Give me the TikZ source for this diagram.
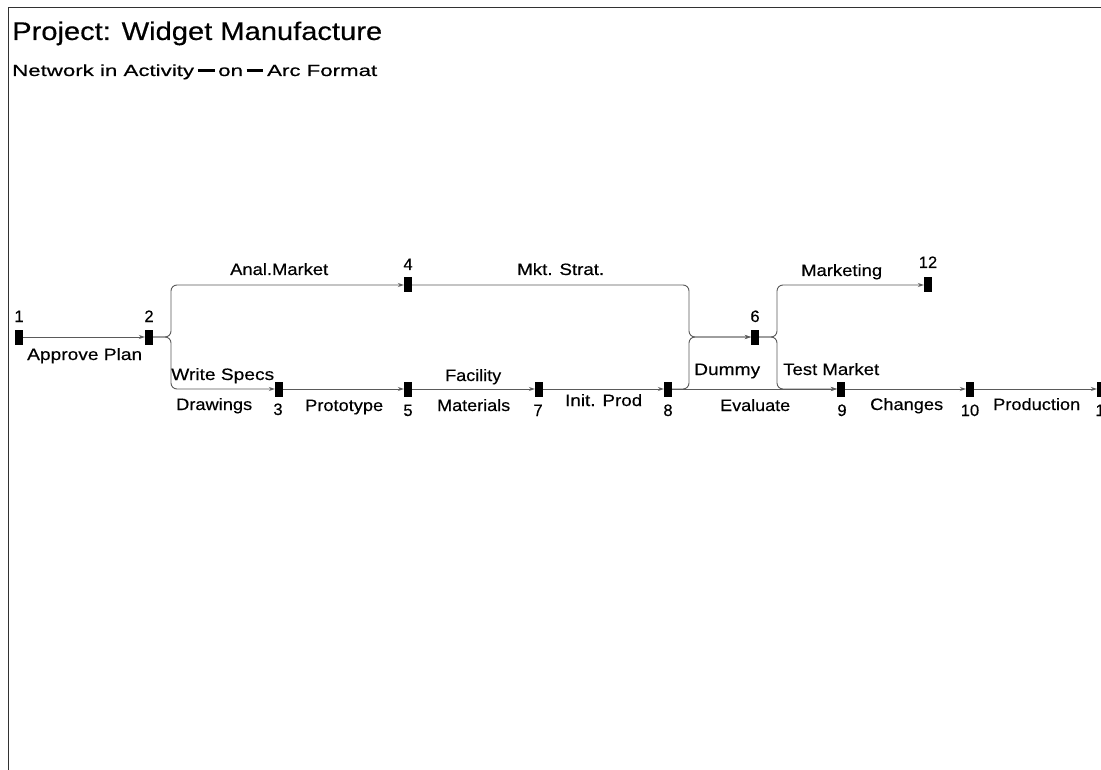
\documentclass[tikz,border=0pt]{standalone}
\usepackage{fontspec}
\setmainfont[FakeBold=0.35]{Liberation Sans}
\usepackage{graphicx}
\usetikzlibrary{arrows.meta}
\definecolor{arcgray}{RGB}{90,90,90}
\definecolor{framegray}{RGB}{50,50,50}
\newcommand{\fitw}[2]{\resizebox{#1pt}{\height}{#2}}
\newcommand{\thickdash}{\,\rule[0.28em]{0.75em}{0.17em}\,}
\begin{document}
\begin{tikzpicture}[x=1pt,y=-1pt,
  evt/.style={fill=black,draw=none,minimum width=8pt,minimum height=15pt,inner sep=0pt},
  arc/.style={draw=arcgray,line width=0.9pt,rounded corners=6pt,-{Stealth[length=6pt,width=4pt]}},
  txt/.style={anchor=base west,inner sep=0pt,font=\fontsize{16.5}{19}\selectfont},
  num/.style={anchor=base,inner sep=0pt,font=\fontsize{16.5}{19}\selectfont}]
\useasboundingbox (0,0) rectangle (1101,770);
\clip (0,0) rectangle (1101,770);
\fill[white] (0,0) rectangle (1101,770);
\draw[line width=1pt, framegray] (8,770) -- (8,8) -- (1101,8);

% titles
\node[anchor=base west,inner sep=0pt,font=\fontsize{25.5}{29}\selectfont] (title) at (12,40) {\fitw{370}{Project: Widget Manufacture}};
\node[anchor=base west,inner sep=0pt,font=\fontsize{16}{19}\selectfont] (subtitle) at (12,76) {\fitw{365}{Network in Activity\thickdash on\thickdash Arc Format}};

% events
\node[evt] (n1) at (19,337) {};
\node[evt] (n2) at (149,337) {};
\node[evt] (n3) at (279,389) {};
\node[evt] (n4) at (408,285) {};
\node[evt] (n5) at (408,389) {};
\node[evt] (n6) at (755,337) {};
\node[evt] (n7) at (539,389) {};
\node[evt] (n8) at (668,389) {};
\node[evt] (n9) at (841,389) {};
\node[evt] (n10) at (970,389) {};
\node[evt] (n11) at (1101,389) {};
\node[evt] (n12) at (928,285) {};

% bend columns
\coordinate (bA) at (171,0);
\coordinate (bB) at (689,0);
\coordinate (bC) at (777,0);

% arcs
\draw[arc] (n1) -- (n2);
\draw[arc] (n2.east) -- (bA |- n2) -- (bA |- n4) -- (n4.west);
\draw[arc] (n2.east) -- (bA |- n2) -- (bA |- n3) -- (n3.west);
\draw[arc] (n3) -- (n5);
\draw[arc] (n5) -- (n7);
\draw[arc] (n7) -- (n8);
\draw[arc] (n8) -- (n9);
\draw[arc] (n9) -- (n10);
\draw[arc] (n10) -- (n11);
\draw[arc] (n4.east) -- (bB |- n4) -- (bB |- n6) -- (n6.west);
\draw[arc] (n8.east) -- (bB |- n8) -- (bB |- n6) -- (n6.west);
\draw[arc] (n6.east) -- (bC |- n6) -- (bC |- n12) -- (n12.west);
\draw[arc] (n6.east) -- (bC |- n6) -- (bC |- n9) -- (n9.west);

% event numbers
\node[num] (k1) at (19,322) {1};
\node[num] (k2) at (149,322) {2};
\node[num] (k4) at (408,270) {4};
\node[num] (k12) at (928,268) {12};
\node[num] (k6) at (755,322) {6};
\node[num] (k3) at (278,415) {3};
\node[num] (k5) at (408,416) {5};
\node[num] (k7) at (538,416) {7};
\node[num] (k8) at (668,416) {8};
\node[num] (k9) at (842,416) {9};
\node[num] (k10) at (970,416) {10};
\node[num] (k11) at (1104,416) {11};

% activity labels
\node[txt] (aApprove) at (27,360) {\fitw{115}{Approve Plan}};
\node[txt] (aAnal) at (230,275) {\fitw{98}{Anal.Market}};
\node[txt] (aMkt) at (517,275) {\fitw{87}{Mkt. Strat.}};
\node[txt] (aMarketing) at (801,276) {\fitw{81}{Marketing}};
\node[txt] (aWrite) at (171,380) {\fitw{103}{Write Specs}};
\node[txt] (aFacility) at (445,381) {\fitw{56}{Facility}};
\node[txt] (aDummy) at (694,375) {\fitw{66}{Dummy}};
\node[txt] (aTest) at (783,375) {\fitw{96}{Test Market}};
\node[txt] (aDrawings) at (176,410) {\fitw{76}{Drawings}};
\node[txt] (aProto) at (305,411) {\fitw{78}{Prototype}};
\node[txt] (aMaterials) at (437,411) {\fitw{73}{Materials}};
\node[txt] (aInit) at (565,406) {\fitw{77}{Init. Prod}};
\node[txt] (aEval) at (720,411) {\fitw{70}{Evaluate}};
\node[txt] (aChanges) at (870,410) {\fitw{73}{Changes}};
\node[txt] (aProd) at (993,410) {\fitw{87}{Production}};
\end{tikzpicture}
\end{document}
